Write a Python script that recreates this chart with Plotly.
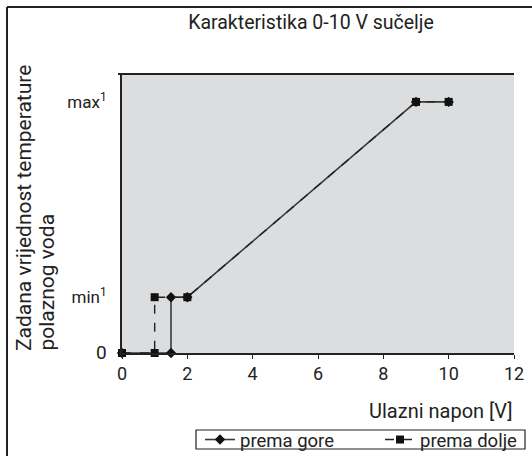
import plotly.graph_objects as go

# Data
x_gore = [0, 1.5, 1.5, 2, 9, 10]
y_gore = [0, 0, 1, 1, 4.5, 4.5]
x_dolje = [0, 1, 1, 2, 9, 10]
y_dolje = [0, 0, 1, 1, 4.5, 4.5]
x_ticks = [0, 2, 4, 6, 8, 10, 12]
y_tickvals = [0, 1, 4.5]
y_ticktext = ["<span style='font-size:19px'>0</span>", "min<sup>1</sup>", "max<sup>1</sup>"]
y_title_lines = ["Zadana vrijednost temperature", "polaznog voda"]

FONT = "Roboto"
TXT = "#222"
FW, FH = 532, 456

# plot-area pixel geometry (page coords)
L, R, T, B = 122, 514, 74, 353
W, H = R - L, B - T


def px(x):
    return (x - L) / W


def py(y):
    return (B - y) / H


fig = go.Figure()
fig.add_trace(go.Scatter(
    x=x_gore, y=y_gore, name="prema gore", mode="lines+markers",
    line=dict(color="#3a3a3a", width=1.6, dash="solid"),
    marker=dict(symbol="diamond", size=8, color="#111"),
    cliponaxis=False,
))
fig.add_trace(go.Scatter(
    x=x_dolje, y=y_dolje, name="prema dolje", mode="lines+markers",
    line=dict(color="#222", width=1.4, dash="dash"),
    marker=dict(symbol="square", size=8, color="#111"),
    cliponaxis=False,
))

fig.update_layout(
    width=FW, height=FH,
    margin=dict(l=L, r=FW - R, t=T, b=FH - B, autoexpand=False),
    paper_bgcolor="white",
    plot_bgcolor="#dcddde",
    font=dict(family=FONT, size=18, color=TXT),
    title=dict(text="Karakteristika 0-10 V sučelje", x=311 / FW, xanchor="center",
               y=1 - 22 / FH, yanchor="middle", font=dict(size=19.5, family=FONT, color=TXT)),
    showlegend=True,
    legend=dict(
        orientation="h", xref="container", yref="container",
        x=200 / FW, xanchor="left", y=1 - 440 / FH, yanchor="middle",
        borderwidth=0, bgcolor="rgba(0,0,0,0)",
        font=dict(size=18.5, family=FONT, color=TXT),
        entrywidth=135, entrywidthmode="pixels", tracegroupgap=0,
    ),
    xaxis=dict(
        range=[0, 12], tickvals=x_ticks, showgrid=False, zeroline=False,
        showline=True, linecolor="#222", linewidth=1.5,
        ticks="outside", ticklen=4, tickcolor="#222",
        tickfont=dict(size=18, family=FONT, color=TXT),
    ),
    yaxis=dict(
        range=[0, 5], tickvals=y_tickvals, ticktext=y_ticktext, showgrid=False, zeroline=False,
        showline=True, linecolor="#222", linewidth=2,
        ticks="outside", ticklen=10, tickcolor="rgba(0,0,0,0)",
        tickfont=dict(size=17, family=FONT, color=TXT),
    ),
)

fig.add_annotation(
    text="Ulazni napon [V]", xref="paper", yref="paper", x=px(515), xanchor="right",
    y=py(411), yanchor="middle", showarrow=False,
    font=dict(size=20, family=FONT, color=TXT),
)
for i, line in enumerate(y_title_lines):
    fig.add_annotation(
        text=line, xref="paper", yref="paper",
        x=px(24 + 22 * i), xanchor="center", y=py(353), yanchor="bottom", textangle=-90,
        showarrow=False, font=dict(size=21, family=FONT, color=TXT),
    )

# top border line of the plot box
fig.add_shape(type="line", xref="paper", yref="paper", x0=px(118), x1=1.0, y0=1, y1=1,
              line=dict(color="#222", width=2))
# outer frame (left and top edges)
fig.add_shape(type="line", xref="paper", yref="paper",
              x0=px(7), x1=px(7), y0=py(470), y1=py(7),
              line=dict(color="#222", width=2))
fig.add_shape(type="line", xref="paper", yref="paper",
              x0=px(7), x1=px(545), y0=py(7), y1=py(7),
              line=dict(color="#222", width=2))
# legend box
fig.add_shape(type="rect", xref="paper", yref="paper",
              x0=px(196), x1=px(525), y0=py(449), y1=py(430),
              line=dict(color="#222", width=1.2))

fig.write_html(
    "out.html",
    config={"displayModeBar": False},
    post_script="document.body.style.margin='0';document.body.style.overflow='hidden';",
)
